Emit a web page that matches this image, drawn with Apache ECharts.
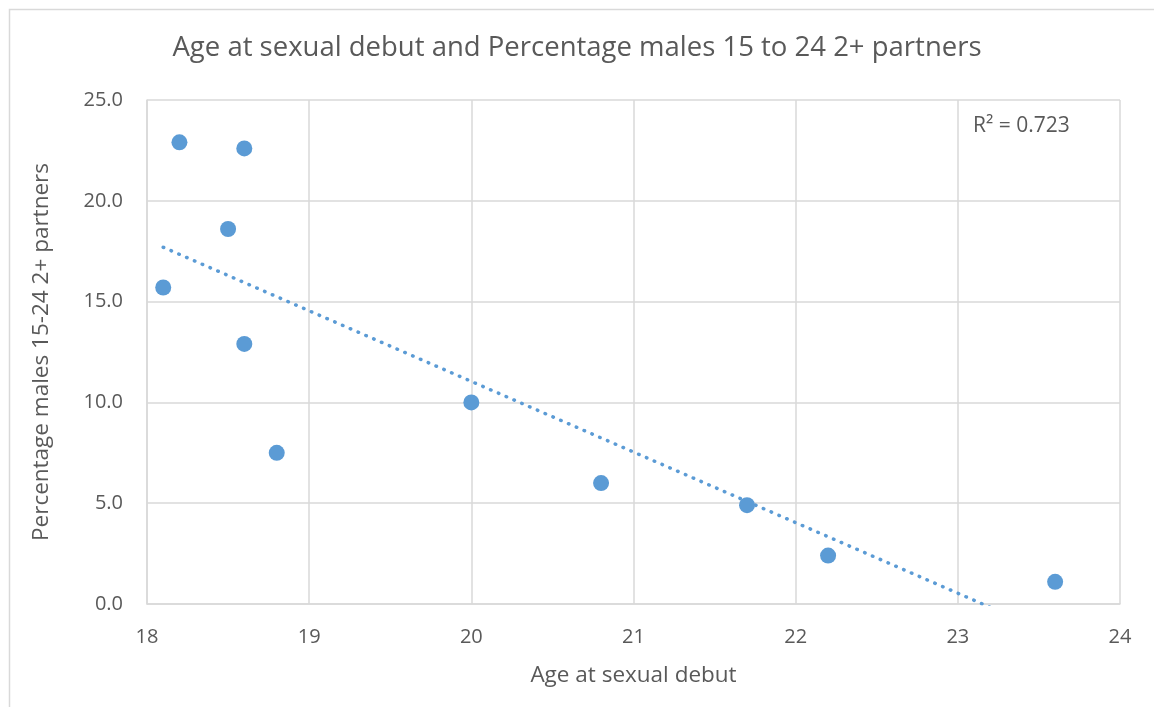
<!DOCTYPE html>
<html>
<head>
<meta charset="utf-8">
<script src="https://cdn.jsdelivr.net/npm/echarts@6/dist/echarts.min.js"></script>
<style>
html,body{margin:0;padding:0;background:#fff;}
#main{width:1154px;height:707px;}
</style>
</head>
<body>
<div id="main"></div>
<script>
var ages = [18.1, 18.2, 18.6, 18.5, 18.6, 18.8, 20.0, 20.8, 21.7, 22.2, 23.6];
var pct  = [15.7, 22.9, 22.6, 18.6, 12.9, 7.5, 10.0, 6.0, 4.9, 2.4, 1.1];
var titleText = 'Age at sexual debut and Percentage males 15 to 24 2+ partners';
var xName = 'Age at sexual debut';
var yName = 'Percentage males 15-24 2+ partners';
var r2Label = 'R² = 0.723';

// linear trendline (least squares) from the data
var n = ages.length, mx = 0, my = 0;
for (var i = 0; i < n; i++) { mx += ages[i]; my += pct[i]; }
mx /= n; my /= n;
var sxy = 0, sxx = 0;
for (var i = 0; i < n; i++) { sxy += (ages[i]-mx)*(pct[i]-my); sxx += (ages[i]-mx)*(ages[i]-mx); }
var slope = sxy / sxx, icpt = my - slope * mx;
var xmin = Math.min.apply(null, ages), xmax = Math.max.apply(null, ages);
var trend = [[xmin, icpt + slope*xmin], [xmax, icpt + slope*xmax]];

var points = ages.map(function(a, i){ return [a, pct[i]]; });

var font = '"Open Sans", "Noto Sans", sans-serif';
var chart = echarts.init(document.getElementById('main'));
chart.setOption({
  animation: false,
  textStyle: { fontFamily: font, color: '#595959' },
  title: {
    text: titleText, left: 'center', top: 29,
    textStyle: { fontFamily: font, fontSize: 27.5, fontWeight: 'normal', color: '#595959' }
  },
  grid: { left: 147, right: 34, top: 100, bottom: 103 },
  xAxis: {
    type: 'value', min: 18, max: 24, interval: 1,
    name: xName, nameLocation: 'middle', nameGap: 60,
    nameTextStyle: { fontFamily: font, fontSize: 22.5, color: '#595959' },
    axisLine: { show: true, lineStyle: { color: '#d9d9d9', width: 1.5 } },
    axisTick: { show: false },
    axisLabel: { fontFamily: font, fontSize: 20, color: '#595959', margin: 23 },
    splitLine: { show: true, lineStyle: { color: '#d9d9d9', width: 1.5 } }
  },
  yAxis: {
    type: 'value', min: 0, max: 25, interval: 5,
    name: yName, nameLocation: 'middle', nameGap: 94, nameRotate: 90,
    nameTextStyle: { fontFamily: font, fontSize: 22.5, color: '#595959' },
    axisLine: { show: true, lineStyle: { color: '#d9d9d9', width: 1.5 } },
    axisTick: { show: false },
    axisLabel: { fontFamily: font, fontSize: 20, color: '#595959', margin: 24,
      formatter: function(v){ return v.toFixed(1); } },
    splitLine: { show: true, lineStyle: { color: '#d9d9d9', width: 1.5 } }
  },
  graphic: [
    { type: 'rect', left: 7, top: 7, shape: { width: 1170, height: 720 },
      style: { fill: 'none', stroke: '#d9d9d9', lineWidth: 1.5 }, silent: true },
    { type: 'text', left: 973, top: 116,
      style: { text: r2Label, font: '21px ' + font, fill: '#595959' } }
  ],
  series: [
    {
      type: 'line', data: trend, symbol: 'none', clip: true,
      lineStyle: { color: '#5b9bd5', width: 3.5, type: [0.5, 8], cap: 'round', opacity: 1 },
      z: 2
    },
    {
      type: 'scatter', data: points, symbolSize: 16,
      itemStyle: { color: '#5b9bd5', opacity: 1 }, z: 3
    }
  ]
});
</script>
</body>
</html>
